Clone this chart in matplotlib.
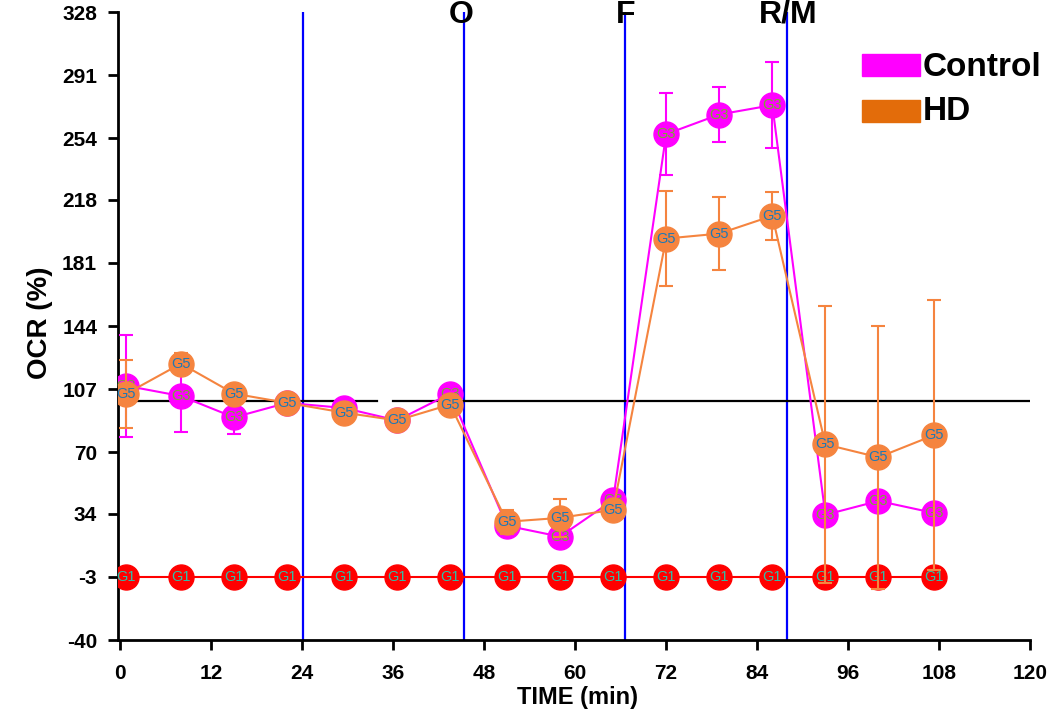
import matplotlib
matplotlib.use("Agg")
import matplotlib.pyplot as plt
from matplotlib.patches import Rectangle

plt.rcParams['font.family'] = ['Liberation Sans', 'DejaVu Sans']
plt.rcParams['axes.unicode_minus'] = False

time = [0.8, 8, 15, 22, 29.5, 36.5, 43.5, 51, 58, 65, 72, 79, 86, 93, 100, 107.3]
control = [109, 103, 90.5, 99, 96, 88.7, 104.4, 27, 20.6, 42, 256.5, 268, 273.5, 33.4, 41.5, 34.5]
control_err = [30, 21, 10, 2, 3, 3, 3, 4, 6, 4, 24, 16, 25, 3, 4, 5]
hd = [104.4, 122, 104.4, 99, 93.3, 88.7, 98, 29.3, 31.6, 36.3, 195.3, 198.2, 208.6, 74.7, 67.1, 80]
hd_err = [20, 6, 5, 2, 3, 3, 4, 7, 11, 4, 28, 21.5, 14, 81, 77, 79]
g1 = [-3] * 16

injections = [24.1, 45.4, 66.6, 87.9]
injection_labels = ["", "O", "F", "R/M"]
label_offsets = [0, -0.45, 0.0, 0.25]
baseline = 100
yticks = [-40, -3, 34, 70, 107, 144, 181, 218, 254, 291, 328]
xticks = list(range(0, 121, 12))

MAG = "#FF00FF"
ORG = "#F5843F"
ORG_LEG = "#E36C0A"
RED = "#FF0000"

fig = plt.figure(figsize=(10.5, 7.14), dpi=100)
ax = fig.add_axes([0.1124, 0.1036, 0.8686, 0.8794])
ax.set_xlim(-0.3, 120)
ax.set_ylim(-40, 328)

# vertical injection lines
for x, lab, off in zip(injections, injection_labels, label_offsets):
    ax.axvline(x, color="#0000FF", lw=1.6, zorder=1)
    if lab:
        ax.text(x + off, 1.02, lab, transform=ax.get_xaxis_transform(),
                ha="center", va="top", fontsize=23, fontweight="bold")

# baseline (with small gap)
ax.plot([-0.3, 33.8], [baseline, baseline], color="black", lw=1.6, zorder=2)
ax.plot([36.0, 120], [baseline, baseline], color="black", lw=1.6, zorder=2)

MS = 18
FS = 10.5
# G1 series
ax.plot(time, g1, color=RED, lw=1.5, marker="o", ms=MS, mfc=RED, mec=RED, zorder=3)
for t, v in zip(time, g1):
    ax.text(t, v, "G1", ha="center", va="center", fontsize=FS, color="#2FBFA8", zorder=4)

# Control
ax.errorbar(time, control, yerr=control_err, color=MAG, lw=1.5, elinewidth=1.5,
            capsize=5, capthick=1.5, marker="o", ms=MS, mfc=MAG, mec=MAG, zorder=5)
for t, v in zip(time, control):
    ax.text(t, v, "G3", ha="center", va="center", fontsize=FS, color="#7AAA30", zorder=6)

# HD
ax.errorbar(time, hd, yerr=hd_err, color=ORG, lw=1.5, elinewidth=1.5,
            capsize=5, capthick=1.5, marker="o", ms=MS, mfc=ORG, mec=ORG, zorder=7)
for t, v in zip(time, hd):
    ax.text(t, v, "G5", ha="center", va="center", fontsize=FS, color="#1F78B4", zorder=8)

# axes styling
for s in ["top", "right"]:
    ax.spines[s].set_visible(False)
for s in ["left", "bottom"]:
    ax.spines[s].set_linewidth(2)
ax.set_yticks(yticks)
ax.set_xticks(xticks)
ax.tick_params(axis="y", direction="out", length=7, width=2, labelsize=15, pad=8)
ax.tick_params(axis="x", direction="out", length=7, width=2, labelsize=15, pad=10)
for lab in ax.get_xticklabels() + ax.get_yticklabels():
    lab.set_fontweight("bold")
ax.set_xlabel("TIME (min)", fontsize=17, fontweight="bold")
ax.xaxis.set_label_coords((577 - 118) / 912, -(697 - 640) / 628)
ax.xaxis.label.set_verticalalignment("center")
ax.set_ylabel("OCR (%)", fontsize=20, fontweight="bold")
ax.yaxis.set_label_coords((40 - 118) / 912, (640 - 323) / 628)
ax.yaxis.label.set_verticalalignment("center")

# legend
fig.patches.append(Rectangle((862 / 1050, 1 - 76 / 714), 58 / 1050, 22 / 714,
                             transform=fig.transFigure, color=MAG))
fig.patches.append(Rectangle((862 / 1050, 1 - 122 / 714), 58 / 1050, 22 / 714,
                             transform=fig.transFigure, color=ORG_LEG))
fig.text(923 / 1050, 1 - 67 / 714, "Control", fontsize=24, fontweight="bold", va="center")
fig.text(923 / 1050, 1 - 111 / 714, "HD", fontsize=24, fontweight="bold", va="center")

fig.savefig("out.png", dpi=100)
